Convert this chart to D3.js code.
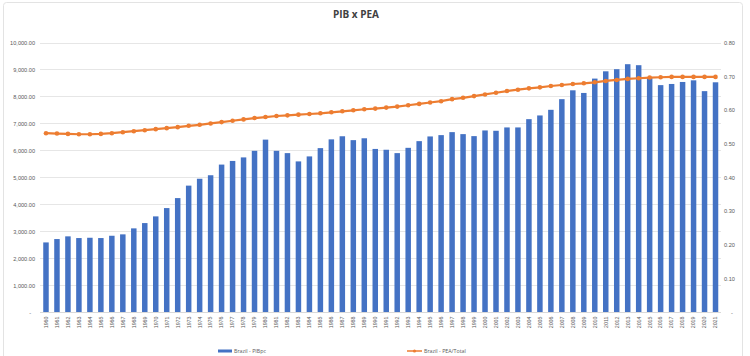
<!DOCTYPE html>
<html>
<head>
<meta charset="utf-8">
<script src="https://cdn.jsdelivr.net/npm/d3@7"></script>
<style>
html,body{margin:0;padding:0;background:#fff;}
svg{display:block;font-family:"Open Sans","Liberation Sans",sans-serif;}
</style>
</head>
<body>
<svg id="chart" width="750" height="356"></svg>
<script>
const years = d3.range(1960, 2022).map(String);
const pibpc = [2590,2715,2815,2752,2763,2752,2837,2889,3111,3307,
  3555,3863,4233,4695,4950,5080,5475,5610,5741,5985,
  6400,5985,5900,5593,5778,6085,6410,6525,6381,6450,
  6055,6025,5900,6096,6344,6518,6567,6678,6604,6530,
  6740,6728,6852,6852,7159,7296,7505,7900,8228,8130,
  8662,8932,9011,9196,9159,8697,8420,8463,8537,8598,
  8197,8525];
const peaTotal = [0.531,0.530,0.529,0.528,0.528,0.529,0.531,0.534,0.537,0.540,
  0.543,0.546,0.549,0.553,0.556,0.560,0.564,0.568,0.572,0.576,
  0.579,0.582,0.584,0.586,0.588,0.590,0.593,0.596,0.599,0.602,
  0.604,0.607,0.610,0.614,0.618,0.622,0.626,0.632,0.636,0.641,
  0.646,0.651,0.656,0.660,0.664,0.667,0.671,0.674,0.677,0.679,
  0.682,0.686,0.689,0.692,0.694,0.696,0.697,0.698,0.698,0.698,
  0.698,0.698];
const leftTicks = d3.range(0, 10001, 1000);
const rightTicks = d3.range(0, 0.81, 0.1).map(v => +v.toFixed(2));
const title = "PIB x PEA";
const seriesNames = ["Brazil - PIBpc", "Brazil - PEA/Total"];

const svg = d3.select("#chart");
const blue = "#4472C4", orange = "#ED7D31";

svg.append("rect").attr("x", 3.5).attr("y", 2.5).attr("width", 739).attr("height", 360)
  .attr("rx", 3).attr("fill", "#fff").attr("stroke", "#e3e3e3");

const x = d3.scaleBand().domain(years).range([40.5, 721]).paddingInner(0.5).paddingOuter(0.25);
const yL = d3.scaleLinear().domain([0, 10000]).range([312.3, 42.5]);
const yR = d3.scaleLinear().domain([0, 0.8]).range([312.3, 42.5]);

// gridlines
svg.append("g").selectAll("line").data(leftTicks.slice(1)).join("line")
  .attr("x1", 40).attr("x2", 721)
  .attr("y1", d => Math.round(yL(d)) + 0.5).attr("y2", d => Math.round(yL(d)) + 0.5)
  .attr("stroke", "#e6e6e6").attr("stroke-width", 1);

// left axis
const fmtL = d => d === 0 ? "-" : d3.format(",.2f")(d);
const axL = svg.append("g").attr("transform", "translate(40,0)")
  .call(d3.axisLeft(yL).tickValues(leftTicks).tickFormat(fmtL).tickSize(0).tickPadding(5));
axL.select(".domain").remove();
axL.selectAll("text").attr("fill", "#595959").attr("font-size", 5.6);
axL.selectAll(".tick").filter(d => d === 0).select("text").attr("dx", -4);

// right axis
const fmtR = d => d === 0 ? "-" : d3.format(".2f")(d);
const axR = svg.append("g").attr("transform", "translate(721,0)")
  .call(d3.axisRight(yR).tickValues(rightTicks).tickFormat(fmtR).tickSize(0).tickPadding(3));
axR.select(".domain").remove();
axR.selectAll("text").attr("fill", "#595959").attr("font-size", 5.6);
axR.selectAll(".tick").filter(d => d === 0).select("text").attr("dx", 7);

// bars
svg.append("g").selectAll("rect").data(years).join("rect")
  .attr("x", d => x(d))
  .attr("width", x.bandwidth())
  .attr("y", (d, i) => yL(pibpc[i]))
  .attr("height", (d, i) => yL(0) - yL(pibpc[i]))
  .attr("fill", blue);

// baseline
svg.append("line").attr("x1", 40).attr("x2", 721).attr("y1", 312.5).attr("y2", 312.5)
  .attr("stroke", "#d9d9d9");

// x axis labels
const axX = svg.append("g").attr("transform", "translate(0,312.5)")
  .call(d3.axisBottom(x).tickSize(0).tickPadding(0));
axX.select(".domain").remove();
axX.selectAll("text").attr("fill", "#595959").attr("font-size", 5.3)
  .attr("transform", "rotate(-90)").attr("text-anchor", "end")
  .attr("x", -4).attr("y", 0).attr("dy", "0.35em");

// line
const cx = d => x(d) + x.bandwidth() / 2;
svg.append("path").datum(years)
  .attr("fill", "none").attr("stroke", orange).attr("stroke-width", 2.2)
  .attr("d", d3.line().x(d => cx(d)).y((d, i) => yR(peaTotal[i])));
svg.append("g").selectAll("circle").data(years).join("circle")
  .attr("cx", d => cx(d)).attr("cy", (d, i) => yR(peaTotal[i]))
  .attr("r", 2.3).attr("fill", orange);

// title
svg.append("text").attr("x", 356).attr("y", 18).attr("text-anchor", "middle")
  .attr("font-size", 10).attr("font-weight", "bold").attr("fill", "#404040").text(title);

// legend
const lg = svg.append("g").attr("font-size", 5.3).attr("fill", "#595959");
lg.append("rect").attr("x", 218).attr("y", 349.5).attr("width", 14).attr("height", 3).attr("fill", blue);
lg.append("text").attr("x", 234).attr("y", 351).attr("dy", "0.35em").text(seriesNames[0]);
lg.append("line").attr("x1", 407).attr("x2", 422).attr("y1", 351).attr("y2", 351)
  .attr("stroke", orange).attr("stroke-width", 1.5);
lg.append("circle").attr("cx", 414.5).attr("cy", 351).attr("r", 1.6).attr("fill", orange);
lg.append("text").attr("x", 424).attr("y", 351).attr("dy", "0.35em").text(seriesNames[1]);
</script>
</body>
</html>
